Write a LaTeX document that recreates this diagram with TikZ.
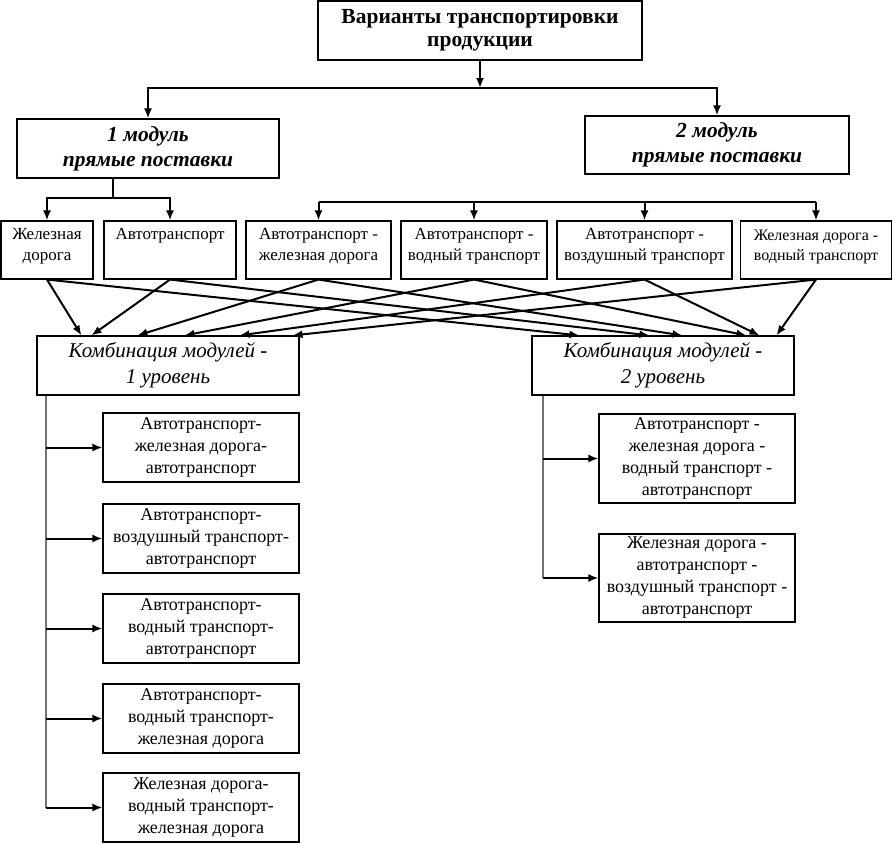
\documentclass[tikz,border=0pt]{standalone}
\usepackage{fontspec}
\setmainfont{Liberation Serif}
\usetikzlibrary{arrows.meta}
\newcommand{\liftgap}{\\[-10pt]\mbox{}}

\begin{document}
\begin{tikzpicture}[x=1pt,y=-1pt,
        box/.style={draw,line width=1.1pt,align=center,inner sep=2pt},
        rowbox/.style={box,minimum height=58pt,font=\fontsize{17}{21}\selectfont},
        lowbox/.style={box,minimum width=196pt,font=\fontsize{18}{22}\selectfont},
        arr/.style={-{Latex[length=10pt,width=8pt]},line width=2pt},
        wire/.style={line width=2pt},
        thinwire/.style={line width=1.4pt,black!55}]
        \useasboundingbox (0,0) rectangle (893,843);
        % top levels
        \node[box,minimum width=324pt,minimum height=59pt,font=\fontsize{21.5}{23}\selectfont\bfseries] (top) at (480,30.5) {Варианты транспортировки\\продукции};
        \node[box,minimum width=262pt,minimum height=59pt,font=\fontsize{21.5}{25}\selectfont\bfseries\itshape] (mod1) at (148,148.5) {1 модуль\\прямые поставки};
        \node[box,minimum width=264pt,minimum height=58pt,font=\fontsize{21.5}{25}\selectfont\bfseries\itshape] (mod2) at (717,145) {2 модуль\\прямые поставки};
        % row of transport kinds
        \node[rowbox,minimum width=92pt]  (r1) at (47,250)    {Железная\\дорога\liftgap};
        \node[rowbox,minimum width=132pt] (r2) at (170,250)   {Автотранспорт\\\mbox{}\liftgap};
        \node[rowbox,minimum width=145pt] (r3) at (318.5,250) {Автотранспорт -\\железная дорога\liftgap};
        \node[rowbox,minimum width=146pt] (r4) at (474,250)   {Автотранспорт -\\водный транспорт\liftgap};
        \node[rowbox,minimum width=175pt] (r5) at (644.5,250) {Автотранспорт -\\воздушный транспорт\liftgap};
        \node[rowbox,minimum width=151pt,font=\fontsize{16}{20}\selectfont] (r6) at (816,250) {Железная дорога -\\водный транспорт\liftgap};
        % combinations
        \node[box,minimum width=262pt,minimum height=59pt,font=\fontsize{21}{26}\selectfont\itshape] (comb1) at (168,365.5) {Комбинация модулей -\\1 уровень};
        \node[box,minimum width=262pt,minimum height=59pt,font=\fontsize{21}{26}\selectfont\itshape] (comb2) at (663,365.5) {Комбинация модулей -\\2 уровень};
        \node[lowbox,minimum height=69pt] (b1) at (201,447.5) {Автотранспорт-\\железная дорога-\\автотранспорт};
        \node[lowbox,minimum height=69pt] (b2) at (201,538.5) {Автотранспорт-\\воздушный транспорт-\\автотранспорт};
        \node[lowbox,minimum height=69pt] (b3) at (201,628.5) {Автотранспорт-\\водный транспорт-\\автотранспорт};
        \node[lowbox,minimum height=69pt] (b4) at (201,718.5) {Автотранспорт-\\водный транспорт-\\железная дорога};
        \node[lowbox,minimum height=69pt] (b5) at (201,807.5) {Железная дорога-\\водный транспорт-\\железная дорога};
        \node[lowbox,minimum height=89pt] (c1) at (697,458.5) {Автотранспорт -\\железная дорога -\\водный транспорт -\\автотранспорт};
        \node[lowbox,minimum height=88pt] (c2) at (697,578)   {Железная дорога -\\автотранспорт -\\воздушный транспорт -\\автотранспорт};

        % connectors
        \coordinate (busA) at (480,88);
        \draw[arr] (top) -- (busA);
        \draw[arr] (busA) -| (mod1);
        \draw[arr] (busA) -| (mod2);
        \coordinate (busB) at (113,198);
        \draw[wire] (busB |- mod1.south) -- (busB);
        \draw[arr] (busB) -| (r1);
        \draw[arr] (busB) -| (r2);
        \coordinate (busC) at (318.5,202);
        \draw[wire] (busC) -- (busC -| r6);
        \foreach \n in {r3,r4,r5,r6}
            \draw[arr] (busC -| \n) -- (\n);
        % every kind goes to both combinations
        \foreach \n/\a/\b in {r1/45/48,r2/55/118,r3/101/151,r4/148/215,r5/203/228,r6/256/245}{
            \draw[arr] (\n.south) -- ([xshift=\a pt]comb1.north west);
            \draw[arr] (\n.south) -- ([xshift=\b pt]comb2.north west);
        }
        \coordinate (busD) at (46,0);
        \draw[thinwire] (busD |- comb1.south) -- (busD |- b5.west);
        \foreach \n in {b1,b2,b3,b4,b5}
            \draw[arr] (busD |- \n.west) -- (\n.west);
        \coordinate (busE) at (543,0);
        \draw[thinwire] (busE |- comb2.south) -- (busE |- c2.west);
        \foreach \n in {c1,c2}
            \draw[arr] (busE |- \n.west) -- (\n.west);
    \end{tikzpicture}
\end{document}
